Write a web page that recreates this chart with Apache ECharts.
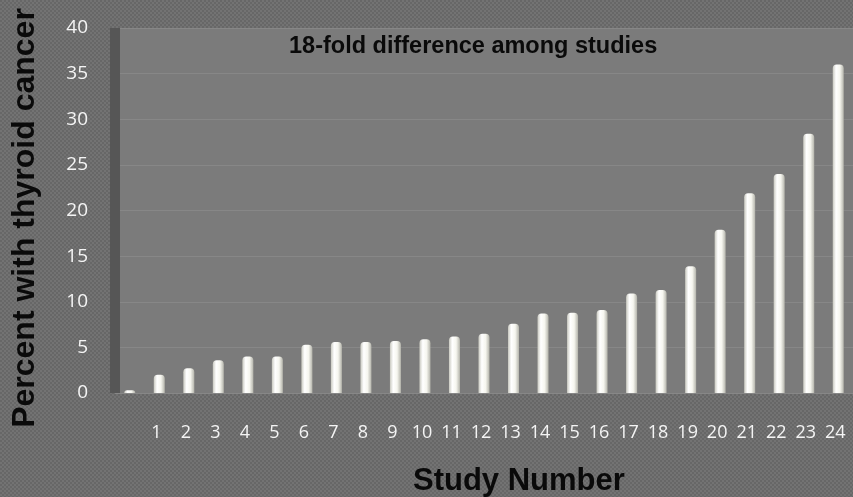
<!DOCTYPE html>
<html>
<head>
<meta charset="utf-8">
<title>Percent with thyroid cancer by study</title>
<script src="https://cdn.jsdelivr.net/npm/echarts@6/dist/echarts.min.js"></script>
<style>
  html, body { margin: 0; padding: 0; background: #6f6f6f; }
  #chart { width: 853px; height: 497px; }
</style>
</head>
<body>
<div id="chart"></div>
<script>
// Study labels (first column has no study number)
const studies = ['', '1', '2', '3', '4', '5', '6', '7', '8', '9', '10', '11', '12',
  '13', '14', '15', '16', '17', '18', '19', '20', '21', '22', '23', '24'];
// Percent of patients with thyroid cancer in each study
const percents = [0.3, 2.0, 2.7, 3.6, 4.0, 4.0, 5.3, 5.6, 5.6, 5.7, 5.9, 6.2, 6.5,
  7.6, 8.7, 8.8, 9.1, 10.9, 11.3, 13.9, 17.9, 21.9, 24.0, 28.4, 36.0];
// Value-axis ticks
const yTicks = [0, 5, 10, 15, 20, 25, 30, 35, 40];

// Fine checkered texture for the page background
function checker() {
  const c = document.createElement('canvas');
  c.width = 4; c.height = 4;
  const g = c.getContext('2d');
  g.fillStyle = '#737373'; g.fillRect(0, 0, 4, 4);
  g.fillStyle = '#676767';
  g.fillRect(0, 0, 2, 2); g.fillRect(2, 2, 2, 2);
  return c;
}

const chart = echarts.init(document.getElementById('chart'), null, { renderer: 'canvas' });

const barGradient = new echarts.graphic.LinearGradient(0, 0, 1, 0, [
  { offset: 0, color: '#c9c9c0' },
  { offset: 0.3, color: '#ffffff' },
  { offset: 0.65, color: '#f6f6ef' },
  { offset: 1, color: '#b4b4ab' }
]);

chart.setOption({
  animation: false,
  backgroundColor: { image: checker(), repeat: 'repeat' },
  title: [
    {
      text: '18-fold difference among studies',
      left: 284, top: 30,
      textStyle: { fontFamily: 'Liberation Sans', fontWeight: 'bold', fontSize: 23.5, color: '#0a0a0a' }
    },
    {
      text: 'Study Number',
      left: 408, top: 461,
      textStyle: { fontFamily: 'Liberation Sans', fontWeight: 'bold', fontSize: 31, color: '#0a0a0a' }
    }
  ],
  graphic: [
    {
      type: 'text',
      x: 25, y: 218,
      rotation: Math.PI / 2,
      style: {
        text: 'Percent with thyroid cancer',
        font: 'bold 32px "Liberation Sans"',
        fill: '#0a0a0a',
        textAlign: 'center',
        textVerticalAlign: 'middle'
      }
    }
  ],
  grid: {
    left: 115, right: -8, top: 28, bottom: 104,
    show: true, backgroundColor: '#7b7b7b', borderWidth: 0
  },
  xAxis: {
    type: 'category',
    data: studies,
    axisLine: { show: false },
    axisTick: { show: false },
    axisLabel: {
      color: '#f4f4f4', fontFamily: 'Open Sans', fontSize: 18,
      margin: 31, interval: 0, padding: [0, 6, 0, 0]
    }
  },
  yAxis: {
    type: 'value',
    min: yTicks[0], max: yTicks[yTicks.length - 1], interval: 5,
    axisLine: { show: true, lineStyle: { color: '#565656', width: 10, cap: 'butt' } },
    axisTick: { show: false },
    splitLine: { show: true, lineStyle: { color: '#878787', width: 1 } },
    axisLabel: {
      color: '#f4f4f4', fontFamily: 'Open Sans', fontSize: 19, margin: 27
    }
  },
  series: [
    {
      type: 'bar',
      data: percents,
      barWidth: 11,
      itemStyle: { color: barGradient, borderRadius: [4, 4, 0, 0] }
    }
  ]
});
</script>
</body>
</html>
